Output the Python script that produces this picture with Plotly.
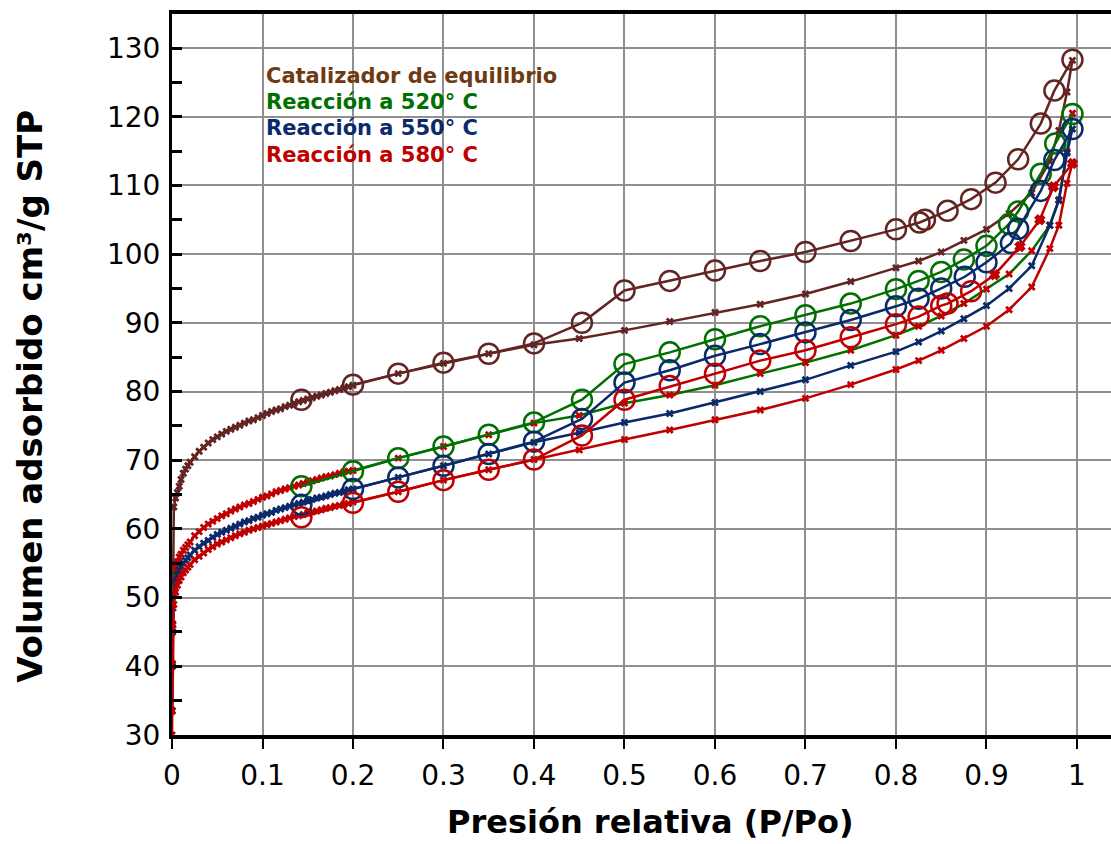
import plotly.graph_objects as go

# ---------------- data ----------------
# dense low-pressure adsorption points (shared pressures)
p_low = [0.0, 0.0003, 0.0006, 0.001, 0.002, 0.004, 0.006, 0.008, 0.01, 0.0125, 0.015, 0.0175,
         0.02, 0.025, 0.03, 0.035, 0.04, 0.045, 0.05, 0.055, 0.06, 0.065, 0.07, 0.075, 0.08,
         0.085, 0.09, 0.095, 0.1, 0.105, 0.11, 0.115, 0.12, 0.125, 0.13, 0.135, 0.14, 0.145,
         0.15, 0.155, 0.16, 0.165, 0.17, 0.175, 0.18, 0.185, 0.19, 0.195]
# higher-pressure adsorption points (shared pressures)
p_high = [0.2, 0.25, 0.3, 0.35, 0.4, 0.45, 0.5, 0.55, 0.6, 0.65, 0.7, 0.75, 0.8, 0.825, 0.85,
          0.875, 0.9, 0.925, 0.95, 0.97, 0.98, 0.989, 0.995]

eq_ads_low = [33.6, 40.4, 46.2, 55.0, 63.2, 64.5, 65.3, 66.2, 67.2, 68.1, 68.7, 69.2, 69.7, 70.5,
              71.3, 71.9, 72.5, 73.0, 73.4, 73.8, 74.2, 74.5, 74.8, 75.1, 75.4, 75.7, 75.9, 76.2,
              76.5, 76.8, 77.1, 77.3, 77.5, 77.8, 78.0, 78.3, 78.5, 78.7, 78.9, 79.1, 79.3, 79.5,
              79.7, 79.9, 80.1, 80.3, 80.5, 80.7]
eq_ads_high = [80.9, 82.6, 84.1, 85.5, 86.8, 87.7, 88.9, 90.2, 91.5, 92.7, 94.2, 96.0, 98.0, 99.0,
               100.3, 102.0, 103.6, 105.9, 108.9, 113.5, 118.0, 123.6, 128.2]

r520_ads_low = [40.0, 45.0, 48.5, 51.0, 52.6, 54.3, 55.2, 55.9, 56.3, 56.9, 57.3, 57.7, 58.1, 59.0,
                59.6, 60.2, 60.7, 61.1, 61.5, 61.9, 62.2, 62.6, 62.9, 63.2, 63.5, 63.7, 64.0, 64.3,
                64.6, 64.8, 65.1, 65.4, 65.6, 65.8, 66.0, 66.2, 66.4, 66.6, 66.8, 67.0, 67.2, 67.4,
                67.6, 67.7, 67.9, 68.1, 68.3, 68.4]
r520_ads_high = [68.5, 70.3, 72.0, 73.7, 75.4, 76.5, 78.3, 79.5, 80.9, 82.6, 84.2, 86.0, 88.2, 89.5,
                 91.0, 92.8, 94.9, 97.1, 100.5, 104.2, 107.9, 114.9, 120.5]

r550_ads_low = [33.5, 40.0, 45.0, 48.5, 50.5, 52.3, 53.3, 54.0, 54.5, 55.0, 55.4, 55.8, 56.2, 56.9,
                57.4, 57.9, 58.3, 58.8, 59.2, 59.5, 59.8, 60.1, 60.4, 60.7, 61.0, 61.2, 61.5, 61.7,
                62.0, 62.2, 62.4, 62.7, 62.9, 63.1, 63.3, 63.5, 63.7, 63.9, 64.1, 64.3, 64.5, 64.6,
                64.8, 65.0, 65.2, 65.3, 65.5, 65.7]
r550_ads_high = [65.8, 67.5, 69.2, 70.9, 72.6, 74.0, 75.5, 76.8, 78.4, 80.0, 81.7, 83.8, 85.8, 87.2,
                 88.8, 90.6, 92.5, 95.0, 98.3, 104.2, 107.8, 114.7, 118.2]

r580_ads_low = [30.0, 33.5, 40.3, 46.0, 49.0, 50.8, 51.8, 52.5, 53.0, 53.6, 54.0, 54.4, 54.8, 55.5,
                56.0, 56.5, 57.0, 57.4, 57.8, 58.1, 58.4, 58.7, 59.0, 59.3, 59.5, 59.8, 60.0, 60.2,
                60.4, 60.6, 60.8, 61.0, 61.2, 61.4, 61.6, 61.8, 61.9, 62.1, 62.3, 62.5, 62.6, 62.8,
                63.0, 63.1, 63.3, 63.4, 63.6, 63.7]
r580_ads_high = [63.9, 65.4, 67.1, 68.6, 70.1, 71.5, 73.0, 74.4, 75.9, 77.3, 79.0, 81.0, 83.2, 84.5,
                 86.0, 87.7, 89.5, 91.9, 95.2, 100.8, 104.2, 110.3, 113.2]

# desorption branches
eq_des_p = [0.995, 0.975, 0.96, 0.935, 0.91, 0.883, 0.857, 0.832, 0.826, 0.8, 0.75, 0.7, 0.65,
            0.6, 0.55, 0.5, 0.453, 0.4, 0.35, 0.3, 0.25, 0.2, 0.143]
eq_des_v = [128.3, 123.8, 119.0, 113.8, 110.4, 108.0, 106.3, 105.0, 104.6, 103.6, 101.9, 100.3,
            99.0, 97.6, 96.1, 94.7, 90.0, 87.0, 85.5, 84.2, 82.6, 81.0, 78.8]

r520_des_p = [0.995, 0.976, 0.96, 0.935, 0.925, 0.9, 0.875, 0.85, 0.825, 0.8, 0.75, 0.7, 0.65,
              0.6, 0.55, 0.5, 0.453, 0.4, 0.35, 0.3, 0.25, 0.2, 0.143]
r520_des_v = [120.4, 116.1, 111.7, 106.2, 104.4, 101.2, 99.2, 97.4, 96.1, 94.9, 92.8, 91.1, 89.5,
              87.6, 85.7, 84.0, 78.8, 75.5, 73.7, 72.0, 70.3, 68.4, 66.2]

r550_des_p = [0.995, 0.975, 0.96, 0.935, 0.927, 0.9, 0.876, 0.85, 0.825, 0.8, 0.75, 0.7, 0.65,
              0.6, 0.55, 0.5, 0.453, 0.4, 0.35, 0.3, 0.25, 0.2, 0.143]
r550_des_v = [118.2, 113.7, 109.2, 103.7, 101.6, 98.8, 96.7, 95.0, 93.5, 92.4, 90.4, 88.6, 86.9,
              85.2, 83.1, 81.3, 76.0, 72.7, 70.9, 69.2, 67.5, 65.8, 63.5]

r580_des_p = [0.995, 0.974, 0.959, 0.937, 0.909, 0.883, 0.857, 0.85, 0.825, 0.8, 0.75, 0.7, 0.65,
              0.6, 0.55, 0.5, 0.453, 0.4, 0.35, 0.3, 0.25, 0.2, 0.143]
r580_des_v = [113.2, 109.8, 105.0, 101.1, 97.0, 94.6, 92.8, 92.5, 90.9, 89.8, 87.9, 86.0, 84.5,
              82.6, 80.8, 78.8, 73.6, 70.1, 68.6, 67.1, 65.4, 63.8, 61.7]

legend_labels = ["Catalizador de equilibrio", "Reacción a 520° C",
                 "Reacción a 550° C", "Reacción a 580° C"]

x_tickvals = [0, 0.1, 0.2, 0.3, 0.4, 0.5, 0.6, 0.7, 0.8, 0.9, 1.0]
x_ticktext = ["0", "0.1", "0.2", "0.3", "0.4", "0.5", "0.6", "0.7", "0.8", "0.9", "1"]

x_title = "Presión relativa (P/Po)"
y_title = "Volumen adsorbido cm³/g STP"

# ---------------- styles ----------------
BROWN = "#632523"
BROWN_TXT = "#6d3a12"
GREEN = "#007000"
BLUE = "#0b2a6b"
RED = "#c00000"
FONT = "DejaVu Sans"

fig = go.Figure()

series = [
    (eq_ads_low, eq_ads_high, BROWN, BROWN),
    (r520_ads_low, r520_ads_high, GREEN, RED),
    (r550_ads_low, r550_ads_high, BLUE, BLUE),
    (r580_ads_low, r580_ads_high, RED, RED),
]
for low, high, lc, mc in series:
    fig.add_trace(go.Scatter(
        x=p_low + p_high, y=low + high, mode="lines+markers",
        line=dict(color=lc, width=2.5),
        marker=dict(symbol="x", size=7, color=mc, opacity=1, line=dict(width=0)),
        showlegend=False, hoverinfo="skip"))

des = [
    (eq_des_p, eq_des_v, BROWN),
    (r520_des_p, r520_des_v, GREEN),
    (r550_des_p, r550_des_v, BLUE),
    (r580_des_p, r580_des_v, RED),
]
for i, (pp, vv, c) in enumerate(des):
    if i == 3:
        symbols = ["x" if p > 0.89 else "circle-open" for p in pp]
        sizes = [7 if p > 0.89 else 20 for p in pp]
    else:
        symbols = "circle-open"
        sizes = 20
    fig.add_trace(go.Scatter(
        x=pp, y=vv, mode="lines+markers",
        line=dict(color=c, width=2.5),
        marker=dict(symbol=symbols, size=sizes, color=c, opacity=1,
                    line=dict(width=2.5, color=c)),
        showlegend=False, hoverinfo="skip"))

legend_colors = [BROWN_TXT, GREEN, BLUE, RED]
legend_y = [125.9, 122.1, 118.3, 114.4]
for lab, col, yy in zip(legend_labels, legend_colors, legend_y):
    fig.add_annotation(x=0.102, y=yy, xref="x", yref="y", text=lab, showarrow=False,
                       xanchor="left", yanchor="middle",
                       font=dict(family=FONT, size=21, color=col, weight="bold"))

# axis titles as annotations, placed like the reference
fig.add_annotation(x=0.510, y=-0.121, xref="paper", yref="paper", text=x_title,
                   showarrow=False, xanchor="center", yanchor="middle",
                   font=dict(family=FONT, size=32, color="black", weight="bold"))
fig.add_annotation(x=-0.1512, y=0.469, xref="paper", yref="paper", text=y_title,
                   showarrow=False, xanchor="center", yanchor="middle", textangle=-90,
                   font=dict(family=FONT, size=34, color="black", weight="bold"))

fig.update_xaxes(
    range=[0, 1.0376], tickvals=x_tickvals, ticktext=x_ticktext,
    showgrid=True, gridcolor="#8f8f8f", gridwidth=2,
    showline=True, linecolor="black", linewidth=4, mirror=True,
    ticks="outside", ticklen=10, tickwidth=2, tickcolor="black",
    ticklabelstandoff=2,
    tickfont=dict(family=FONT, size=28, color="black"),
    automargin=False, zeroline=False)
fig.update_yaxes(
    range=[30, 134.95], tickmode="linear", tick0=30, dtick=10,
    showgrid=True, gridcolor="#8f8f8f", gridwidth=2,
    showline=True, linecolor="black", linewidth=3,
    ticks="inside", ticklen=10, tickwidth=3, tickcolor="black",
    minor=dict(ticks="inside", dtick=5, tick0=30, ticklen=10, tickwidth=3, tickcolor="black",
               showgrid=False),
    ticklabelstandoff=3,
    tickfont=dict(family=FONT, size=28, color="black"),
    automargin=False, zeroline=False)

fig.update_layout(
    width=1111, height=844,
    margin=dict(l=172, r=0, t=14, b=109),
    plot_bgcolor="white", paper_bgcolor="white",
    showlegend=False)

fig.write_html("out.html", config={"displayModeBar": False},
               post_script="document.body.style.margin='0px';document.body.style.overflow='hidden';")
